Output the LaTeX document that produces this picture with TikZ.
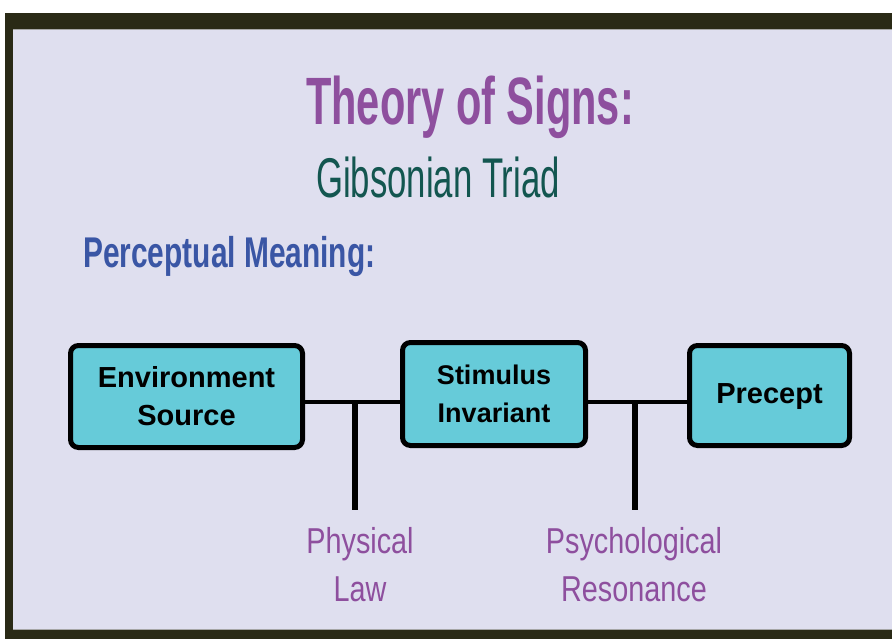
\documentclass[tikz,border=0pt]{standalone}
\usepackage{fontspec}
\setmainfont{Liberation Sans}
\newfontfamily\titlefont[FakeStretch=0.62]{Liberation Sans}
\newfontfamily\headfont[FakeStretch=0.695]{Liberation Sans}
\newfontfamily\labelfont[FakeStretch=0.8]{Liberation Sans}
\usepackage{xcolor}
\usetikzlibrary{positioning,calc}

\definecolor{framedark}{HTML}{2A2A16}
\definecolor{slidebg}{HTML}{DFDFEF}
\definecolor{boxcyan}{HTML}{66CBD9}
\definecolor{signpurple}{HTML}{8E4F9E}
\definecolor{triadteal}{HTML}{135650}
\definecolor{meaningblue}{HTML}{3A56A5}

\begin{document}
\begin{tikzpicture}[
    x=1pt, y=-1pt,
    termbox/.style={draw=black, fill=boxcyan, line width=5pt, rounded corners=8pt, align=center,
        font=\fontsize{29}{38}\selectfont\bfseries, inner sep=0pt},
    factor/.style={text=signpurple, align=center, font=\labelfont\fontsize{36}{48}\selectfont},
    link/.style={draw=black, line width=3.5pt},
    stem/.style={draw=black, line width=5.5pt}
]
\useasboundingbox (0,0) rectangle (892,639);

% slide frame
\fill[framedark] (5,13) rectangle (892,639);
\fill[slidebg] (13,29) rectangle (892,630);
\draw[gray!70, line width=1pt] (13,29.5) -- (892,29.5);
\draw[gray!70, line width=1pt] (13,629.5) -- (892,629.5);

% headings
\node[anchor=base, text=signpurple, font=\titlefont\fontsize{67}{67}\selectfont\bfseries] (title) at (470,125) {Theory of Signs:};
\node[anchor=base, text=triadteal, font=\titlefont\fontsize{56}{56}\selectfont] (triad) at (438,198) {Gibsonian Triad};
\node[anchor=base west, inner sep=0pt, text=meaningblue, font=\headfont\fontsize{43}{43}\selectfont\bfseries] (meaning) at (83,268) {Perceptual Meaning:};

% the three terms
\node[termbox, minimum width=232pt, minimum height=102pt] (source) at (186.5,396.5) {Environment\\Source};
\node[termbox, minimum width=183pt, minimum height=103pt, font=\fontsize{27}{38}\selectfont\bfseries] (invariant) at (494,394) {Stimulus\\Invariant};
\node[termbox, minimum width=160pt, minimum height=100pt, text depth=3pt] (precept) at (769.5,395.5) {Precept};

% junctions
\coordinate (lawjoin) at (355,402);
\coordinate (resjoin) at (635,402);
\coordinate (lawend) at (355,510);
\coordinate (resend) at (635,510);

\draw[link] (source.east |- lawjoin) -- (invariant.west |- lawjoin);
\draw[link] (invariant.east |- resjoin) -- (precept.west |- resjoin);
\draw[stem] (lawjoin) -- (lawend);
\draw[stem] (resjoin) -- (resend);

% mediating factors
\node[factor, anchor=base] (law) at (360,601) {Physical\\Law};
\node[factor, anchor=base] (resonance) at (634,601) {Psychological\\Resonance};

\end{tikzpicture}
\end{document}
